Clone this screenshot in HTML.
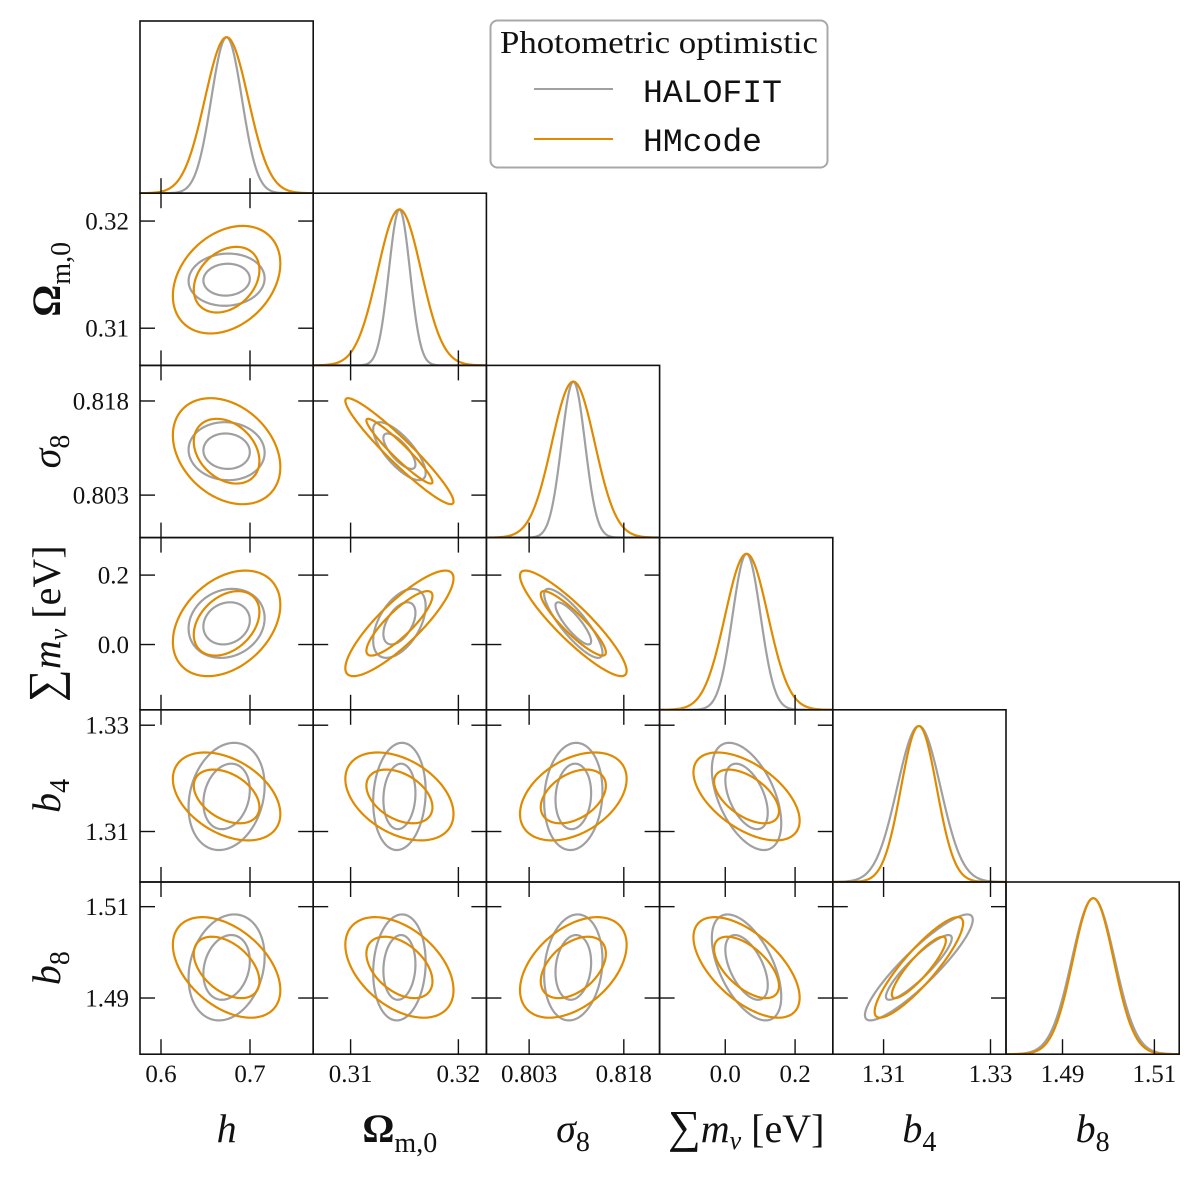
<!DOCTYPE html>
<html><head><meta charset="utf-8"><style>
html,body{margin:0;padding:0;background:#fff;}
svg{display:block;}
text{font-family:"Liberation Serif",serif;fill:#111;}
.mono{font-family:"Liberation Mono",monospace;}
</style></head><body>
<svg id="chart" width="1200" height="1177" viewBox="0 0 1200 1177" xmlns="http://www.w3.org/2000/svg">
<g id="panels"></g>
<g id="labels"></g>
<g>
  <rect x="490.5" y="20.5" width="337" height="147" rx="7" ry="7" fill="#fff" stroke="#a8a8a8" stroke-width="2"/>
  <text x="659" y="53" font-size="32" text-anchor="middle" textLength="318" lengthAdjust="spacingAndGlyphs">Photometric optimistic</text>
  <line x1="534" y1="89" x2="613" y2="89" stroke="#a0a0a0" stroke-width="2"/>
  <text class="mono" x="643" y="102" font-size="32" textLength="139" lengthAdjust="spacingAndGlyphs">HALOFIT</text>
  <line x1="534" y1="139" x2="613" y2="139" stroke="#e08a00" stroke-width="2"/>
  <text class="mono" x="643" y="151" font-size="32" textLength="119" lengthAdjust="spacingAndGlyphs">HMcode</text>
</g>
</svg>
<script>
// ---- data ----
const params = ["h","Om","s8","mnu","b4","b8"];
const domainsLo = [0.5764, 0.30653, 0.79623, -0.188, 1.3005, 1.4777];
const domainsHi = [0.7710, 0.32260, 0.82367, 0.308, 1.3329, 1.5154];
const tickValues = [[0.6,0.7],[0.31,0.32],[0.803,0.818],[0.0,0.2],[1.31,1.33],[1.49,1.51]];
const tickLabels = [["0.6","0.7"],["0.31","0.32"],["0.803","0.818"],["0.0","0.2"],["1.31","1.33"],["1.49","1.51"]];
const means = [0.6737, 0.31453, 0.8100, 0.061, 1.3166, 1.4967];
const sigmaHALOFIT = [0.0172, 0.00098, 0.00186, 0.040, 0.00406, 0.00467];
const sigmaHMcode  = [0.0243, 0.00202, 0.00340, 0.0612, 0.00333, 0.00443];
// correlations, upper triangle order: (0,1),(0,2),(0,3),(0,4),(0,5),(1,2),(1,3),(1,4),(1,5),(2,3),(2,4),(2,5),(3,4),(3,5),(4,5)
const corrHALOFIT = [0.05,-0.05,0.15,0.2,0.2, -0.75,0.5,0.1,0.1, -0.85,0.1,0.15, -0.5,-0.55, 0.9];
const corrHMcode  = [0.3,-0.3,0.35,-0.4,-0.45, -0.95,0.85,-0.4,-0.45, -0.9,0.4,0.45, -0.55,-0.6, 0.88];
const contourLevels = [1.517, 2.484]; // sqrt of delta-chi2 for 68% / 95% in 2D

// ---- layout ----
const N = 6;
const X0 = 140, Y0 = 21, PW = 173.2, PH = 172.2, TICK = 15;
const NS = "http://www.w3.org/2000/svg";
const panels = document.getElementById("panels");
const labels = document.getElementById("labels");
function mk(tag, attrs, parent){ const e=document.createElementNS(NS,tag); for(const k in attrs) e.setAttribute(k,attrs[k]); parent.appendChild(e); return e; }
function xs(i,v,col){ const l=X0+col*PW; return l+(v-domainsLo[i])/(domainsHi[i]-domainsLo[i])*PW; }
function ys(i,v,row){ const t=Y0+row*PH; return t+PH-(v-domainsLo[i])/(domainsHi[i]-domainsLo[i])*PH; }
function corrIdx(a,b){ if(a>b){const t=a;a=b;b=t;} let k=0; for(let i=0;i<N;i++) for(let j=i+1;j<N;j++){ if(i===a&&j===b) return k; k++; } return -1; }
const models = [
  {name:"halofit", sig:sigmaHALOFIT, corr:corrHALOFIT, color:"#a0a0a0"},
  {name:"hmcode", sig:sigmaHMcode, corr:corrHMcode, color:"#e08a00"}
];

for(let r=0;r<N;r++){
  for(let c=0;c<=r;c++){
    const left=X0+c*PW, top=Y0+r*PH;
    const g = mk("g",{},panels);
    
    
    const cid="clip"+r+"_"+c;
    const cp=mk("clipPath",{id:cid},g); mk("rect",{x:left,y:top,width:PW,height:PH},cp);
    const inner=mk("g",{"clip-path":"url(#"+cid+")"},g);
    models.forEach(m=>{
      if(r===c){
        const i=r, s=m.sig[i]; let d="";
        const steps=160;
        for(let k=0;k<=steps;k++){
          const v=domainsLo[i]+(domainsHi[i]-domainsLo[i])*k/steps;
          const z=(v-means[i])/s;
          const y=top+PH-0.906*PH*Math.exp(-0.5*z*z);
          d+=(k?"L":"M")+xs(i,v,c).toFixed(2)+","+y.toFixed(2);
        }
        const p=mk("path",{d:d,fill:"none",stroke:m.color,"stroke-width":2.2},inner);
        
        
      } else {
        const ix=c, iy=r, rho=m.corr[corrIdx(ix,iy)];
        const sx=m.sig[ix], sy=m.sig[iy], q=Math.sqrt(1-rho*rho);
        contourLevels.forEach((lev,li)=>{
          let d="";
          for(let k=0;k<=180;k++){
            const t=2*Math.PI*k/180;
            const vx=means[ix]+lev*sx*Math.cos(t);
            const vy=means[iy]+lev*sy*(rho*Math.cos(t)+q*Math.sin(t));
            d+=(k?"L":"M")+xs(ix,vx,c).toFixed(2)+","+ys(iy,vy,r).toFixed(2);
          }
          const p=mk("path",{d:d+"Z",fill:"none",stroke:m.color,"stroke-width":2.2},inner);
          
          
        });
      }
    });
    // ticks
    tickValues[c].forEach(v=>{
      const x=xs(c,v,c);
      mk("line",{x1:x,y1:top+PH,x2:x,y2:top+PH-TICK,stroke:"#111","stroke-width":1.4},g);
      if(r!==c) mk("line",{x1:x,y1:top,x2:x,y2:top+TICK,stroke:"#111","stroke-width":1.4},g);
    });
    if(r!==c){
      tickValues[r].forEach(v=>{
        const y=ys(r,v,r);
        mk("line",{x1:left,y1:y,x2:left+TICK,y2:y,stroke:"#111","stroke-width":1.4},g);
        mk("line",{x1:left+PW,y1:y,x2:left+PW-TICK,y2:y,stroke:"#111","stroke-width":1.4},g);
      });
    }
    mk("rect",{x:left,y:top,width:PW,height:PH,fill:"none",stroke:"#111","stroke-width":1.6},g);
  }
}
// tick labels
for(let r=1;r<N;r++){
  tickValues[r].forEach((v,k)=>{
    const t=mk("text",{x:129,y:ys(r,v,r)+8.5,"font-size":25,"text-anchor":"end"},labels);
    t.textContent=tickLabels[r][k];
    
    
  });
}
for(let c=0;c<N;c++){
  tickValues[c].forEach((v,k)=>{
    const t=mk("text",{x:xs(c,v,c),y:1082,"font-size":25,"text-anchor":"middle"},labels);
    t.textContent=tickLabels[c][k];
    
    
  });
}
// axis titles
const titleSVG = [
  '<tspan font-style="italic">h</tspan>',
  '<tspan font-weight="bold">Ω</tspan><tspan font-size="28" dy="10">m,0</tspan>',
  '<tspan font-style="italic">σ</tspan><tspan font-size="28" dy="9">8</tspan>',
  '<tspan font-size="46">∑</tspan><tspan font-style="italic">m</tspan><tspan font-style="italic" font-size="26" dy="7">ν</tspan><tspan dy="-7"> [eV]</tspan>',
  '<tspan font-style="italic">b</tspan><tspan font-size="28" dy="9">4</tspan>',
  '<tspan font-style="italic">b</tspan><tspan font-size="28" dy="9">8</tspan>'
];
for(let c=0;c<N;c++){
  const t=mk("text",{x:X0+c*PW+PW/2,y:1142,"font-size":40,"text-anchor":"middle"},labels);
  t.innerHTML=titleSVG[c];
  
  
}
for(let r=1;r<N;r++){
  const cy=Y0+r*PH+PH/2;
  const t=mk("text",{x:0,y:0,"font-size":40,"text-anchor":"middle",transform:"translate(60,"+cy+") rotate(-90)"},labels);
  t.innerHTML=titleSVG[r];
  
  
}
</script>
</body></html>
